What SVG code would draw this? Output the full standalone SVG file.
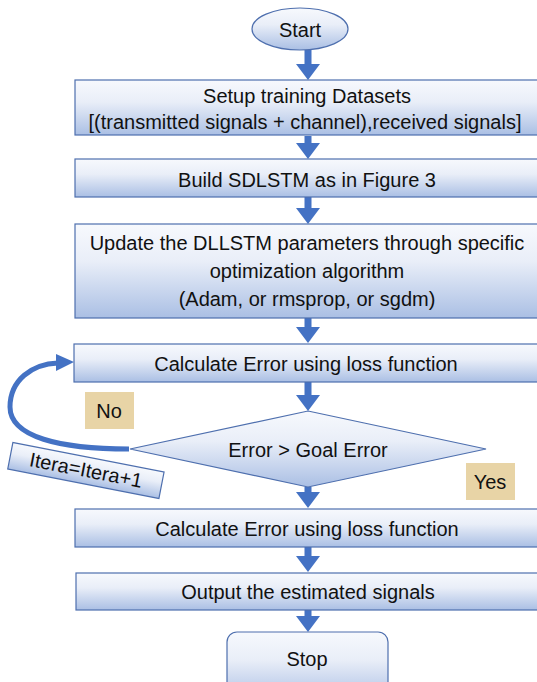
<svg xmlns="http://www.w3.org/2000/svg" width="537" height="682" viewBox="0 0 537 682">
<defs>
<linearGradient id="g" x1="0" y1="0" x2="0" y2="1">
<stop offset="0" stop-color="#f7f9fd"/>
<stop offset="0.4" stop-color="#e9eef8"/>
<stop offset="1" stop-color="#aabfe4"/>
</linearGradient>
<style>
.n{fill:url(#g);stroke:#4e6fae;stroke-width:1.2}
.t{font-family:"Liberation Sans",Arial,sans-serif;font-size:20px;fill:#111;text-anchor:middle}
.a{fill:#4472c4}
.lab{fill:#e8d4a6}
</style>
</defs>
<g id="connectors">
<path class="a" d="M304.5,50 h7 v14 h8.5 l-12,16 l-12,-16 h8.5 z"/>
<path class="a" d="M304.5,136 h7 v7 h8.5 l-12,16 l-12,-16 h8.5 z"/>
<path class="a" d="M304.5,197 h7 v11 h8.5 l-12,16 l-12,-16 h8.5 z"/>
<path class="a" d="M304.5,318 h7 v9 h8.5 l-12,16 l-12,-16 h8.5 z"/>
<path class="a" d="M304.5,382 h7 v13 h8.5 l-12,16 l-12,-16 h8.5 z"/>
<path class="a" d="M304.5,487 h7 v5 h8.5 l-12,16 l-12,-16 h8.5 z"/>
<path class="a" d="M304.5,547 h7 v9 h8.5 l-12,16 l-12,-16 h8.5 z"/>
<path class="a" d="M304.5,610 h7 v6 h8.5 l-12,16 l-12,-16 h8.5 z"/>
<path d="M129,449 C60,449 10,437 10,407 C10,380 32,364 58,363" fill="none" stroke="#4472c4" stroke-width="5"/>
<path class="a" d="M56,354 L74,362 L56,371 Z"/>
</g>
<g id="start">
<ellipse class="n" cx="300" cy="29" rx="48" ry="21"/>
<text class="t" x="300" y="37">Start</text>
</g>
<g id="setup">
<rect class="n" x="75" y="80" width="470" height="55"/>
<text class="t" x="307" y="103">Setup training Datasets</text>
<text class="t" x="305" y="129">[(transmitted signals + channel),received signals]</text>
</g>
<g id="build">
<rect class="n" x="75" y="159" width="470" height="38"/>
<text class="t" x="307" y="187">Build SDLSTM as in Figure 3</text>
</g>
<g id="update">
<rect class="n" x="75" y="224" width="470" height="94"/>
<text class="t" x="307" y="250">Update the DLLSTM parameters through specific</text>
<text class="t" x="307" y="278">optimization algorithm</text>
<text class="t" x="307" y="306">(Adam, or rmsprop, or sgdm)</text>
</g>
<g id="calc1">
<rect class="n" x="74" y="344" width="470" height="38"/>
<text class="t" x="306" y="371">Calculate Error using loss function</text>
</g>
<g id="decision">
<path class="n" d="M308,411 L486,449 L308,487 L130,449 Z"/>
<text class="t" x="308" y="457">Error &gt; Goal Error</text>
</g>
<g id="no">
<rect class="lab" x="85" y="392" width="49" height="37"/>
<text class="t" x="109" y="418">No</text>
</g>
<g id="yes">
<rect class="lab" x="466" y="463" width="49" height="37"/>
<text class="t" x="490" y="489">Yes</text>
</g>
<g id="itera" transform="rotate(11 86 470)">
<rect class="n" x="9" y="457" width="154" height="27"/>
<text class="t" x="86" y="477">Itera=Itera+1</text>
</g>
<g id="calc2">
<rect class="n" x="75" y="509" width="470" height="38"/>
<text class="t" x="307" y="536">Calculate Error using loss function</text>
</g>
<g id="output">
<rect class="n" x="76" y="573" width="470" height="37"/>
<text class="t" x="308" y="599">Output the estimated signals</text>
</g>
<g id="stop">
<rect class="n" x="227" y="632" width="161" height="70" rx="10"/>
<text class="t" x="307" y="666">Stop</text>
</g>
</svg>
